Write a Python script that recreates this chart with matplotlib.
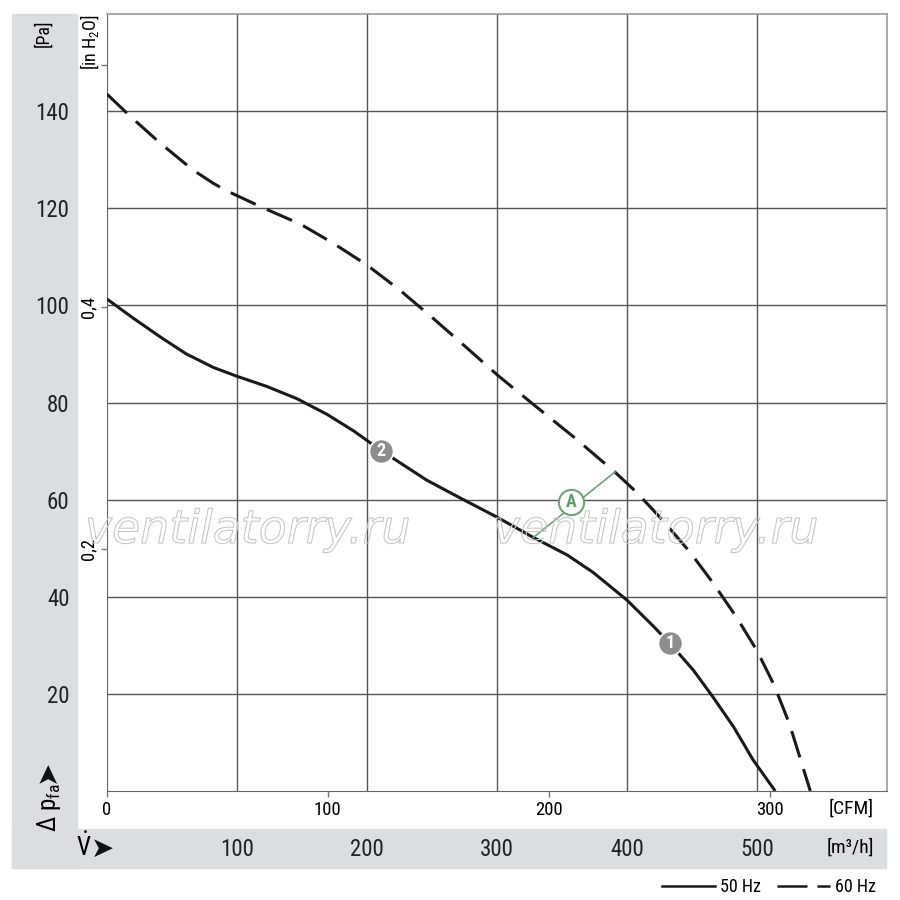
import matplotlib
matplotlib.use("Agg")
import matplotlib.pyplot as plt
import matplotlib.patheffects as pe
from matplotlib import font_manager
from matplotlib.lines import Line2D
from matplotlib.patches import Rectangle

# flow in m3/h, pressure in Pa
q_50 = [0, 20, 41, 61, 82, 100, 123, 146, 169, 190, 202, 211, 246, 272, 300,
        328, 354, 374, 400, 420, 433, 451, 466, 482, 497, 514]
p_50 = [101.3, 97.4, 93.5, 90.0, 87.2, 85.4, 83.3, 80.8, 77.6, 74.1, 71.8,
        70.1, 64.0, 60.3, 56.4, 52.2, 48.6, 45.0, 39.3, 34.0, 30.4, 24.9,
        19.4, 13.2, 6.4, 0.0]

q_60 = [0, 18, 41, 66, 82, 92, 120, 149, 174, 200, 225, 251, 277, 301, 328,
        359, 391, 407, 428, 449, 466, 484, 500, 513, 525, 541]
p_60 = [143.5, 138.9, 133.4, 127.9, 125.1, 123.6, 120.1, 116.7, 112.8, 108.3,
        103.2, 97.3, 91.2, 85.5, 79.6, 72.9, 65.6, 61.6, 55.6, 49.0, 42.9,
        35.9, 28.9, 21.9, 13.8, 0.0]

pa_ticks = [20, 40, 60, 80, 100, 120, 140]
m3h_ticks = [100, 200, 300, 400, 500]
cfm_ticks = [0, 100, 200, 300]
inh2o_ticks = [0.2, 0.4, 0.6]
inh2o_labels = ["0,2", "0,4", ""]

# numbered points on the curves and the A-line
point_q = [433, 211]
point_p = [30.4, 70.1]
point_txt = ["1", "2"]
a_line_q = [327.9, 390.8]
a_line_p = [52.2, 65.7]
a_q, a_p = 357, 59.5

names = {f.name for f in font_manager.fontManager.ttflist}
narrow = "DejaVu Sans"
for cand in ["Roboto Condensed", "Archivo Narrow", "IBM Plex Sans Condensed",
             "Fira Sans Condensed", "Barlow Semi Condensed"]:
    if cand in names:
        narrow = cand
        break
plt.rcParams["font.family"] = [narrow, "DejaVu Sans"]
plt.rcParams["mathtext.fontset"] = "custom"
plt.rcParams["mathtext.rm"] = narrow
plt.rcParams["mathtext.it"] = narrow + ":italic"
plt.rcParams["mathtext.bf"] = narrow + ":bold"


def fx(px):
    return px / 900.0


def fy(py):
    return 1 - py / 900.0


fig = plt.figure(figsize=(9, 9), dpi=100)
band = "#dcdddf"
fig.patches.append(Rectangle((fx(12), fy(868)), fx(65), 854 / 900.0,
                             transform=fig.transFigure, color=band, zorder=-1))
fig.patches.append(Rectangle((fx(12), fy(868)), fx(874), 39 / 900.0,
                             transform=fig.transFigure, color=band, zorder=-1))

ax = fig.add_axes([fx(107), fy(791), 780 / 900.0, 777 / 900.0])
ax.set_xlim(0, 600)
ax.set_ylim(0, 160)
ax.set_axisbelow(True)
ax.grid(True, color="#555555", lw=1.0)
for s in ["left", "bottom"]:
    ax.spines[s].set_color("#666666")
for s in ["top", "right"]:
    ax.spines[s].set_color("#999999")
    ax.spines[s].set_linewidth(1.2)

ax.set_xticks(m3h_ticks)
ax.set_xticklabels([str(v) for v in m3h_ticks])
ax.set_yticks(pa_ticks)
ax.set_yticklabels([str(v) for v in pa_ticks])
ax.tick_params(axis="x", length=0, pad=34, labelsize=16.5, labelcolor="#222222")
ax.tick_params(axis="y", length=0, pad=27, labelsize=16.5, labelcolor="#222222")

secx = ax.secondary_xaxis("bottom", functions=(lambda q: q / 1.699, lambda c: c * 1.699))
secx.set_xticks(cfm_ticks)
secx.set_xticklabels([str(v) for v in cfm_ticks])
secx.tick_params(length=4.5, width=1, color="#777777", pad=3, labelsize=13.5)
secx.spines["bottom"].set_visible(False)

secy = ax.secondary_yaxis("left", functions=(lambda p: p / 249.09, lambda h: h * 249.09))
secy.set_yticks(inh2o_ticks)
secy.set_yticklabels(inh2o_labels, rotation=90, va="center")
secy.tick_params(length=4.3, width=1, color="#777777", pad=3, labelsize=13.5)
secy.spines["left"].set_visible(False)

ax.plot(q_50, p_50, color="#1a1a1a", lw=2.2, solid_capstyle="butt",
        solid_joinstyle="round", zorder=3)
ax.plot(q_60, p_60, color="#1a1a1a", lw=2.2, dashes=(9, 4),
        dash_joinstyle="round", zorder=3)

ax.plot(a_line_q, a_line_p, color="#6aa477", lw=1.2, zorder=4)
ax.scatter([a_q], [a_p], s=330, facecolor="white", edgecolor="#6aa477",
           lw=1.5, zorder=5)
ax.text(a_q, a_p, "A", color="#5d9e6b", fontsize=13, fontweight="bold",
        ha="center", va="center", zorder=6)

ax.scatter(point_q, point_p, s=300, color="#8d8d8d", edgecolor="white",
           lw=1.2, zorder=5)
for q, p, t in zip(point_q, point_p, point_txt):
    ax.text(q, p, t, color="white", fontsize=13, fontweight="bold",
            ha="center", va="center", zorder=6)

# watermark
for cx in [248, 656]:
    fig.text(fx(cx), fy(543), "ventilatorry.ru", family="DejaVu Sans",
             style="italic", fontsize=33, ha="center", va="baseline",
             color="none",
             path_effects=[pe.Stroke(linewidth=0.8, foreground="#c8c8c8")])

# unit labels
fig.text(fx(43), fy(33), "[Pa]", rotation=90, fontsize=13, ha="center", va="center")
fig.text(fx(90), fy(42), "[in H$_2$O]", rotation=90, fontsize=13, ha="center", va="center")
fig.text(fx(49), fy(808), "Δ p$_{\\mathrm{fa}}$", rotation=90, fontsize=18,
         ha="center", va="center")
fig.text(fx(47), fy(771), "➤", rotation=90, fontsize=20, family="DejaVu Sans",
         ha="center", va="center", color="#111111")
fig.text(fx(84), fy(847), "$\\dot{\\mathrm{V}}$", fontsize=18, ha="center", va="center")
fig.text(fx(103), fy(849), "➤", fontsize=20, family="DejaVu Sans",
         ha="center", va="center", color="#111111")
fig.text(fx(874), fy(809), "[CFM]", fontsize=14, ha="right", va="center")
fig.text(fx(874), fy(848), "[m³/h]", fontsize=14, ha="right", va="center")

handles = [Line2D([], [], color="#1a1a1a", lw=1.8),
           Line2D([], [], color="#1a1a1a", lw=1.8, dashes=(12, 4))]
fig.legend(handles, ["50 Hz", "60 Hz"], loc="center right", ncol=2,
           bbox_to_anchor=(fx(876), fy(887)), frameon=False, fontsize=13,
           handlelength=2.9, handletextpad=0.3, columnspacing=0.9,
           borderpad=0, borderaxespad=0)

fig.savefig("out.png", dpi=100)
